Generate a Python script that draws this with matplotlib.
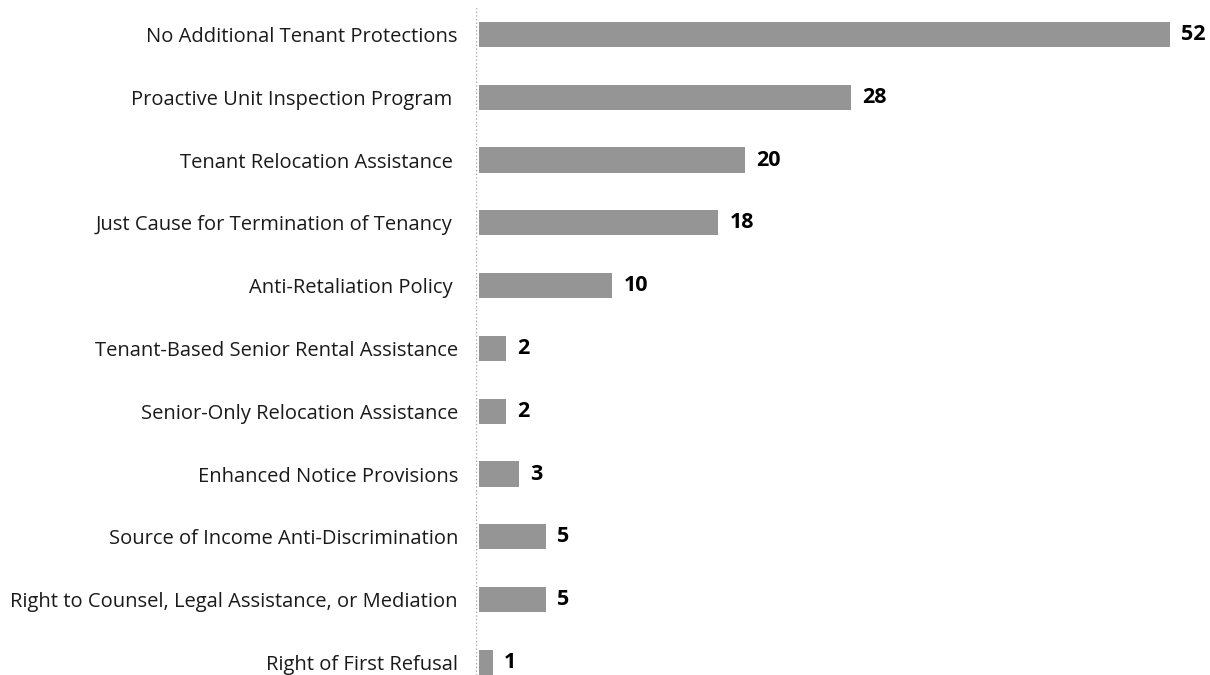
import matplotlib.pyplot as plt

categories = [
    'No Additional Tenant Protections',
    'Proactive Unit Inspection Program ',
    'Tenant Relocation Assistance ',
    'Just Cause for Termination of Tenancy ',
    'Anti-Retaliation Policy ',
    'Tenant-Based Senior Rental Assistance',
    'Senior-Only Relocation Assistance',
    'Enhanced Notice Provisions',
    'Source of Income Anti-Discrimination',
    'Right to Counsel, Legal Assistance, or Mediation',
    'Right of First Refusal',
]
counts = [52, 28, 20, 18, 10, 2, 2, 3, 5, 5, 1]

plt.rcParams['font.family'] = ['Open Sans', 'DejaVu Sans']

fig = plt.figure(figsize=(12.1, 6.75), dpi=100)
ax = fig.add_axes([476 / 1210, 0, 1 - 476 / 1210, 1 - 3 / 675])

ypos = list(range(len(categories)))
ax.barh(ypos, counts, height=0.4, color='#959595', left=0)

# bold value labels right of each bar
for y, v in zip(ypos, counts):
    ax.annotate(str(v), (v, y), xytext=(8, 0), textcoords='offset points',
                va='center', ha='left', fontsize=15.5, fontweight='bold', color='black')

ax.set_xlim(-0.25, 55)
ax.set_ylim(10.2, -0.5)
ax.axvline(-0.25, ymax=0.995, color='#aaaaaa', linestyle=':', linewidth=1)

ax.set_yticks(ypos)
ax.set_yticklabels(categories, fontsize=14.5, color='#1a1a1a')
ax.tick_params(axis='y', length=0, pad=13)
ax.set_xticks([])
for s in ax.spines.values():
    s.set_visible(False)

fig.savefig('out.png', dpi=100)
